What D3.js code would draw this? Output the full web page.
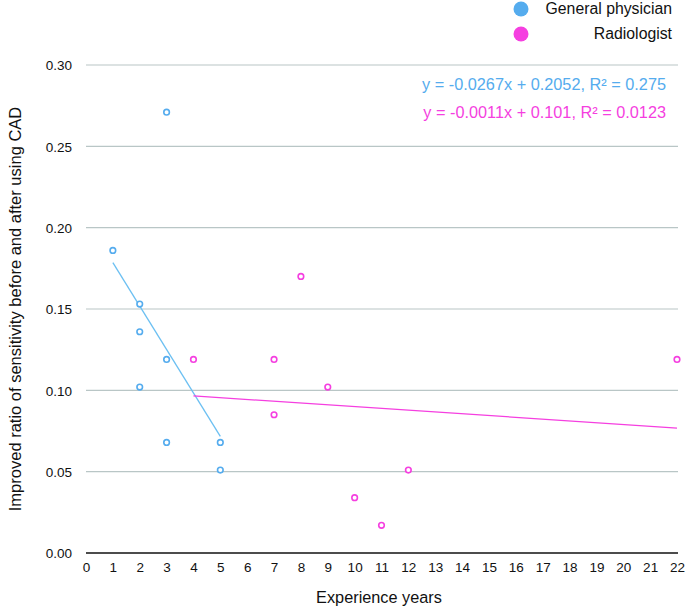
<!DOCTYPE html>
<html><head><meta charset="utf-8">
<script src="https://cdn.jsdelivr.net/npm/d3@7"></script>
<style>body{margin:0;background:#fff}svg{display:block}text{font-family:"Liberation Sans",Arial,Helvetica,sans-serif}</style>
</head><body>
<script>
// Data
const gpYears = [1, 2, 2, 2, 3, 3, 3, 5, 5];
const gpValues = [0.186, 0.153, 0.136, 0.102, 0.271, 0.119, 0.068, 0.068, 0.051];
const radYears = [4, 7, 7, 8, 9, 10, 11, 12, 22];
const radValues = [0.119, 0.119, 0.085, 0.170, 0.102, 0.034, 0.017, 0.051, 0.119];
const gpFit = {slope: -0.0267, intercept: 0.2052, label: "y = -0.0267x + 0.2052, R² = 0.275"};
const radFit = {slope: -0.0011, intercept: 0.101, label: "y = -0.0011x + 0.101, R² = 0.0123"};
const yTicks = [0, 0.05, 0.10, 0.15, 0.20, 0.25, 0.30];
const xTicks = d3.range(0, 23);
const seriesNames = ["General physician", "Radiologist"];

const W = 685, H = 610;
const blue = "#55acee", pink = "#f53fe0";
const svg = d3.select("body").append("svg").attr("width", W).attr("height", H);

const x = d3.scaleLinear().domain([0, 22]).range([86, 677]);
const y = d3.scaleLinear().domain([0, 0.30]).range([553, 65]);

// gridlines
svg.append("g").selectAll("line").data(yTicks.filter(d => d > 0)).join("line")
  .attr("x1", 86).attr("x2", 678).attr("y1", d => y(d)).attr("y2", d => y(d))
  .attr("stroke", "#b9c6c6").attr("stroke-width", 1.2);

// y axis labels
const yAxis = d3.axisLeft(y).tickValues(yTicks).tickFormat(d3.format(".2f")).tickSize(0).tickPadding(0);
const gy = svg.append("g").attr("transform", "translate(72,0)").call(yAxis);
gy.select(".domain").remove();
gy.selectAll("text").attr("font-size", 13.5).attr("fill", "#111").attr("dy", "0.35em");

// x axis
const xAxis = d3.axisBottom(x).tickValues(xTicks).tickFormat(d3.format("d")).tickSize(0).tickPadding(9);
const gx = svg.append("g").attr("transform", "translate(0,553)").call(xAxis);
gx.select(".domain").remove();
gx.selectAll("text").attr("font-size", 13.5).attr("fill", "#111");
svg.append("line").attr("x1", 86).attr("x2", 678).attr("y1", y(0)).attr("y2", y(0))
  .attr("stroke", "#111").attr("stroke-width", 1.3);

// axis titles
svg.append("text").attr("x", 379).attr("y", 603).attr("text-anchor", "middle")
  .attr("font-size", 16.3).attr("fill", "#111").text("Experience years");
svg.append("text").attr("transform", "translate(21,309) rotate(-90)").attr("text-anchor", "middle")
  .attr("font-size", 16.5).attr("fill", "#111").text("Improved ratio of sensitivity before and after using CAD");

// trendlines
function trend(years, fit, color) {
  const [a, b] = d3.extent(years);
  svg.append("line").attr("x1", x(a)).attr("x2", x(b))
    .attr("y1", y(fit.slope * a + fit.intercept)).attr("y2", y(fit.slope * b + fit.intercept))
    .attr("stroke", color).attr("stroke-width", 1.3);
}
trend(gpYears, gpFit, "#6cc0f2");
trend(radYears, radFit, pink);

// points
function pts(years, vals, color) {
  svg.append("g").selectAll("circle").data(years.map((d, i) => [d, vals[i]])).join("circle")
    .attr("cx", d => x(d[0])).attr("cy", d => y(d[1])).attr("r", 2.8)
    .attr("fill", "#fff").attr("stroke", color).attr("stroke-width", 1.6);
}
pts(gpYears, gpValues, blue);
pts(radYears, radValues, pink);

// equations
svg.append("text").attr("x", 666).attr("y", 90).attr("text-anchor", "end")
  .attr("font-size", 16.3).attr("fill", blue).text(gpFit.label);
svg.append("text").attr("x", 666).attr("y", 118).attr("text-anchor", "end")
  .attr("font-size", 16.3).attr("fill", pink).text(radFit.label);

// legend
const leg = svg.append("g");
[blue, pink].forEach((c, i) => {
  leg.append("circle").attr("cx", 521).attr("cy", 9 + i * 25).attr("r", 7.5).attr("fill", c);
  leg.append("text").attr("x", 672).attr("y", 14 + i * 25).attr("text-anchor", "end")
    .attr("font-size", 15.8).attr("fill", "#111").text(seriesNames[i]);
});
</script>
</body></html>
